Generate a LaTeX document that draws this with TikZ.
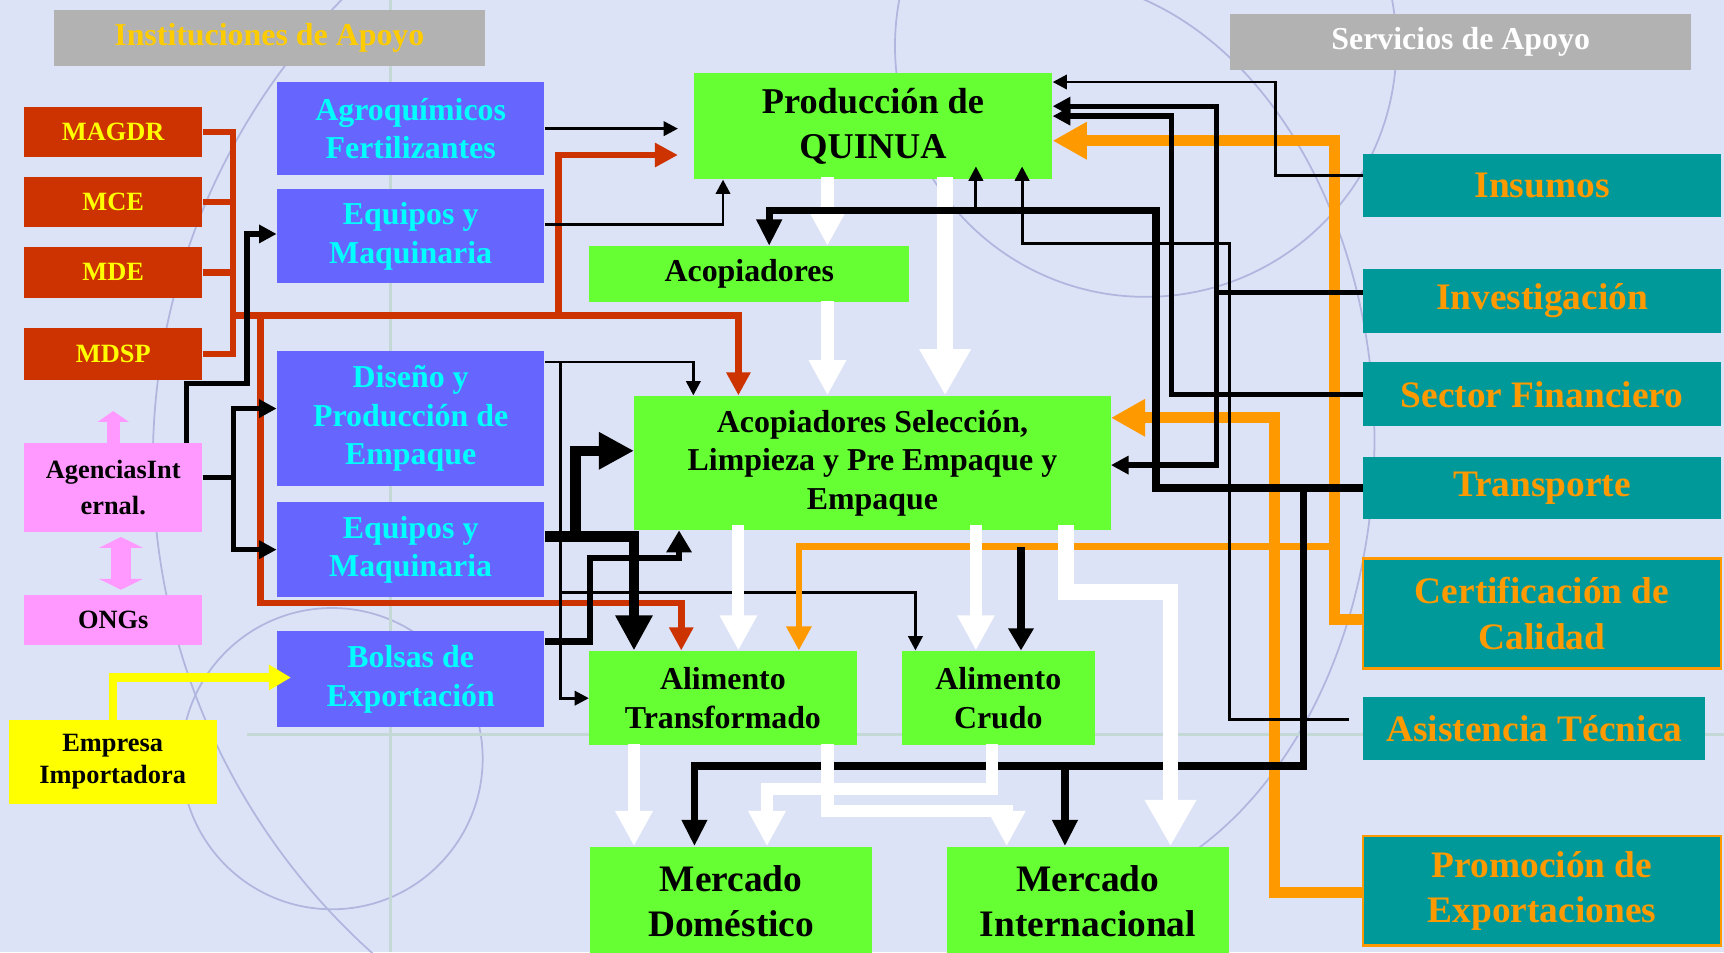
\documentclass[tikz,border=0pt]{standalone}
\usepackage{fontspec}
\setmainfont{Liberation Serif}
\usetikzlibrary{arrows.meta, positioning, calc}

\definecolor{bgc}{RGB}{221,227,246}
\definecolor{grayc}{RGB}{178,178,178}
\definecolor{goldc}{RGB}{255,204,0}
\definecolor{redc}{RGB}{204,51,0}
\definecolor{yellowc}{RGB}{255,255,0}
\definecolor{pinkc}{RGB}{255,153,255}
\definecolor{bluec}{RGB}{102,102,255}
\definecolor{cyanc}{RGB}{0,255,255}
\definecolor{greenc}{RGB}{102,255,51}
\definecolor{tealc}{RGB}{0,153,153}
\definecolor{orangec}{RGB}{255,153,0}
\definecolor{decoc}{RGB}{176,182,222}
\definecolor{decoline}{RGB}{196,216,214}

\newcommand{\fsz}[2]{\fontsize{#1pt}{#2pt}\selectfont}

\begin{document}
\begin{tikzpicture}[
    x=0.5pt, y=-0.5pt,
    box/.style={
        rectangle,
        inner sep=0pt,
        align=center,
        font=\bfseries
    },
    headbox/.style={box, fill=grayc, minimum height=25.5pt, font=\bfseries\fsz{14.5}{17}},
    redbox/.style={box, fill=redc, text=yellowc, minimum width=81pt, minimum height=23pt, font=\bfseries\fsz{12}{14}},
    pinkbox/.style={box, fill=pinkc, minimum width=81pt, font=\bfseries\fsz{12}{16.5}},
    bluebox/.style={box, fill=bluec, text=cyanc, minimum width=121.5pt, font=\bfseries\fsz{14.5}{17.5}},
    greenbox/.style={box, fill=greenc, font=\bfseries\fsz{14.5}{17.5}},
    bigtext/.style={font=\bfseries\fsz{17}{20.5}},
    tealbox/.style={box, fill=tealc, text=orangec, minimum width=162.5pt, font=\bfseries\fsz{17}{20.5}},
    redline/.style={draw=redc, line width=3pt},
    redarrow/.style={redline, -{Triangle[length=10.5pt,width=10.5pt]}},
    thinarrow/.style={draw=black, line width=1.3pt, -{Triangle[length=6.5pt,width=6.5pt]}},
    medarrow/.style={draw=black, line width=2.4pt, -{Triangle[length=8pt,width=8pt]}},
    busarrow/.style={draw=black, line width=3.3pt, -{Triangle[length=12pt,width=11pt]}},
    thickarrow/.style={draw=black, line width=4.7pt, -{Triangle[length=16pt,width=16pt]}},
    orangearrow/.style={draw=orangec, line width=5pt, -{Triangle[length=15.5pt,width=16pt]}},
    thinorange/.style={draw=orangec, line width=3pt, -{Triangle[length=11pt,width=11pt]}},
    whitearrow/.style={draw=white, line width=5.5pt, -{Triangle[length=16pt,width=16pt]}},
    bigwhite/.style={draw=white, line width=7pt, -{Triangle[length=21pt,width=22pt]}}
]

% Background
\useasboundingbox (0,0) rectangle (1568,866);
\fill[bgc] (0,0) rectangle (1568,866);
\begin{scope}
\clip (0,0) rectangle (1568,866);
\draw[decoc, line width=0.8pt] (1042,42) circle[radius=228];
\draw[decoc, line width=0.8pt] (302,690) circle[radius=137];
\draw[decoc, line width=0.8pt] (739,420) ++(225:600) arc[start angle=225, end angle=125, radius=600];
\draw[decoc, line width=0.8pt] (950,400) ++(-75:300 and 420) arc[start angle=-75, end angle=70, x radius=300, y radius=420];
\draw[decoline, line width=1.5pt] (355,0) -- (355,866);
\draw[decoline, line width=1.5pt] (225,668) -- (1568,668);
\end{scope}

% Titles
\node[headbox, text=goldc, minimum width=196pt] (inst) at (245,34.5) {Instituciones de Apoyo};
\node[headbox, text=white, minimum width=209.5pt] (serv) at (1328.5,38.5) {Servicios de Apoyo};

% Instituciones
\node[redbox] (magdr) at (103,120) {MAGDR};
\node[redbox] (mce) [below=8.5pt of magdr] {MCE};
\node[redbox] (mde) [below=8.5pt of mce] {MDE};
\node[redbox, minimum height=23.5pt] (mdsp) [below=13.5pt of mde] {MDSP};
\node[pinkbox, minimum height=40.5pt] (agen) at (103,443.5) {AgenciasInt\\ernal.};
\node[pinkbox, minimum height=23pt] (ongs) [below=28pt of agen] {ONGs};
\node[box, fill=yellowc, minimum width=94.5pt, minimum height=38pt, font=\bfseries\fsz{12}{14.5}] (empresa) at (102.5,693) {Empresa\\Importadora};

% Proveedores
\node[bluebox, minimum height=42pt] (agro) at (373.5,117) {Agroquímicos\\Fertilizantes};
\node[bluebox, minimum height=43pt] (equip1) [below=6pt of agro] {Equipos y\\Maquinaria};
\node[bluebox, minimum height=61pt] (diseno) [below=30.5pt of equip1] {Diseño y\\Producción de\\Empaque};
\node[bluebox, minimum height=43.5pt] (equip2) [below=7pt of diseno] {Equipos y\\Maquinaria};
\node[bluebox, minimum height=43.5pt] (bolsas) [below=15pt of equip2] {Bolsas de\\Exportación};

% Cadena
\node[greenbox, minimum width=163pt, minimum height=48.5pt, font=\bfseries\fsz{16.5}{20.5}] (prod) at (794,114.5) {Producción de\\QUINUA};
\node[greenbox, minimum width=145.5pt, minimum height=25.5pt] (acop) at (681.5,249.5) {Acopiadores};
\node[greenbox, minimum width=216.5pt, minimum height=61pt] (acopsel) at (793.5,421) {Acopiadores Selección,\\Limpieza y Pre Empaque y\\Empaque};
\node[greenbox, minimum width=121.5pt, minimum height=43pt] (alitrans) at (657.5,635) {Alimento\\Transformado};
\node[greenbox, minimum width=88pt, minimum height=43pt] (alicrudo) at (908,635) {Alimento\\Crudo};
\node[greenbox, bigtext, minimum width=128pt, minimum height=50pt] (mdom) at (665,820) {Mercado\\Doméstico};
\node[greenbox, bigtext, minimum width=128.5pt, minimum height=50pt] (mint) at (989.5,820) {Mercado\\Internacional};

% Servicios
\node[tealbox, minimum height=28.5pt] (insumos) at (1402.5,168.5) {Insumos};
\node[tealbox, minimum height=29pt] (invest) [below=23.5pt of insumos] {Investigación};
\node[tealbox, minimum height=29pt] (sector) [below=13pt of invest] {Sector Financiero};
\node[tealbox, minimum height=28.5pt] (transp) [below=13.5pt of sector] {Transporte};
\node[tealbox, draw=orangec, line width=1pt, minimum height=50pt] (certif) at (1402.5,558) {Certificación de\\Calidad};
\node[tealbox, minimum width=155.5pt, minimum height=28.5pt] (asist) at (1395.5,662.5) {Asistencia Técnica};
\node[tealbox, draw=orangec, line width=1pt, minimum height=50pt] (promo) at (1402.5,810) {Promoción de\\Exportaciones};

\coordinate (rbus) at (212,287);

% Flujo principal (arriba)
\draw[whitearrow] ($(prod.south west)+(122,-2)$) -- ($(acop.north west)+(217,0)$);
\draw[bigwhite] ($(prod.south west)+(229,-2)$) -- ($(acopsel.north west)+(283,0)$);
\draw[whitearrow] ($(acop.south west)+(217,-2)$) -- ($(acopsel.north west)+(176,0)$);

% Instituciones
\draw[redline] (magdr.east) -| (rbus);
\draw[redline] (mce.east) -| (rbus);
\draw[redline] (mde.east) -| (rbus);
\draw[redline] (mdsp.east) -| (rbus);
\draw[redarrow] (rbus) -| ($(acopsel.north west)+(95,0)$);
\draw[redarrow] ($(rbus)+(296,0)$) |- ($(prod.west)+(-14,26.5)$);
\draw[redarrow] ($(rbus)+(25,0)$) |- ($(alitrans.north west)+(84,-43)$) -- ($(alitrans.north west)+(84,0)$);

% Proveedores
\draw[thinarrow, shorten >=7pt] (agro.east) -- (agro.east -| prod.west);
\draw[thinarrow] ($(equip1.east)+(0,-11)$) -| ($(prod.south west)+(27,0)$);
\draw[thinarrow] ($(diseno.north east)+(0,10)$) -| ($(acopsel.north west)+(54,0)$);
\draw[thinarrow] ($(diseno.north east)+(14,10)$) |- (alitrans.west);
\draw[thinarrow] ($(diseno.north east)+(14,220)$) -| ($(alicrudo.north west)+(13,0)$);
\draw[medarrow] ($(agen.north west)+(148,0)$) -- ++(0,-54) -| ($(equip1.west)+(-27,-2)$) -- ($(equip1.west)+(0,-2)$);
\draw[medarrow] ($(agen.east)+(0,-9.5)$) -- ++(28,0) |- ($(diseno.west)+(0,-9)$);
\draw[medarrow] ($(agen.east)+(28,-9.5)$) |- (equip2.west);
\draw[thickarrow] ($(equip2.east)+(0,-12)$) -| ($(alitrans.north west)+(41,0)$);
\draw[thickarrow] ($(equip2.east)+(28,-12)$) |- ($(acopsel.west)+(0,-11)$);
\draw[draw=black, line width=3pt, -{Triangle[length=10pt,width=11pt]}] ($(bolsas.east)+(0,-34.5)$) -| ($(acopsel.south west)+(-40,25)$) -| ($(acopsel.south west)+(41,0)$);

% Servicios
\draw[orangearrow] ($(certif.west)+(0,5)$) -| ($(prod.east)+(256,13.5)$) -- ($(prod.east)+(0,13.5)$);
\draw[thinorange] ($(certif.west)+(-27,-61)$) -| ($(alitrans.north west)+(191,0)$);
\draw[orangearrow] ($(promo.west)+(0,2)$) -| ($(acopsel.east)+(149,-41)$) -- ($(acopsel.east)+(0,-41)$);
\draw[thinarrow] ($(insumos.west)+(0,-8.5)$) -| ($(prod.north east)+(203,9)$) -- ($(prod.north east)+(0,9)$);
\draw[medarrow] ($(invest.west)+(0,-8)$) -| ($(prod.north east)+(149,31)$) -- ($(prod.north east)+(0,31)$);
\draw[medarrow] ($(invest.west)+(0,-8)$) -| ($(acopsel.east)+(96,2)$) -- ($(acopsel.east)+(0,2)$);
\draw[medarrow] (sector.west) -| ($(prod.north east)+(108,40)$) -- ($(prod.north east)+(0,40)$);
\draw[busarrow] (transp.west) -| ($(prod.south east)+(94,28)$) -| ($(acop.north west)+(164,0)$);
\draw[thinarrow] ($(prod.south west)+(257,28)$) -- ($(prod.south west)+(257,-12)$);
\draw[thinarrow] ($(asist.west)+(-13,-8.5)$) -| ($(prod.north east)+(161,156)$) -| ($(prod.south west)+(299,-12)$);
\draw[busarrow] ($(transp.west)+(-54,0)$) |- ($(mdom.north west)+(95,-73)$) -- ($(mdom.north west)+(95,0)$);
\draw[busarrow] ($(mint.north west)+(108,-73)$) -- ($(mint.north west)+(108,0)$);
\draw[draw=black, line width=3.5pt, -{Triangle[length=10pt,width=11pt]}] ($(acopsel.south west)+(352,15)$) -- ($(alicrudo.north west)+(109,0)$);

% Flujo principal (abajo)
\draw[whitearrow] ($(acopsel.south west)+(95,-5)$) -- ($(alitrans.north west)+(136,0)$);
\draw[whitearrow] ($(acopsel.south west)+(311,-5)$) -- ($(alicrudo.north west)+(68,0)$);
\draw[bigwhite] ($(acopsel.south west)+(393,-5)$) |- ($(mint.north west)+(204,-231)$) -- ($(mint.north west)+(204,0)$);
\draw[whitearrow] ($(alitrans.south west)+(41,-2)$) -- ($(mdom.north west)+(40,0)$);
\draw[whitearrow] ($(alicrudo.south west)+(83,-2)$) |- ($(mdom.north west)+(161,-52)$) -- ($(mdom.north west)+(161,0)$);
\draw[whitearrow] ($(alitrans.south west)+(217,-2)$) |- ($(mint.north west)+(55,-32)$) -- ($(mint.north west)+(55,0)$);

% Agencias y empresa
\draw[pinkc, line width=6pt, -{Triangle[length=5pt,width=14pt]}] (agen.north) -- ($(mdsp.south)+(0,28)$);
\draw[pinkc, line width=9pt, {Triangle[length=5pt,width=20pt]}-{Triangle[length=5pt,width=20pt]}] ($(agen.south)+(7,4)$) -- ($(ongs.north)+(7,-4)$);
\draw[yellowc, line width=3.8pt, -{Triangle[length=10pt,width=11pt]}] (empresa.north) |- ($(bolsas.west)+(13,-1.5)$);

\end{tikzpicture}
\end{document}
